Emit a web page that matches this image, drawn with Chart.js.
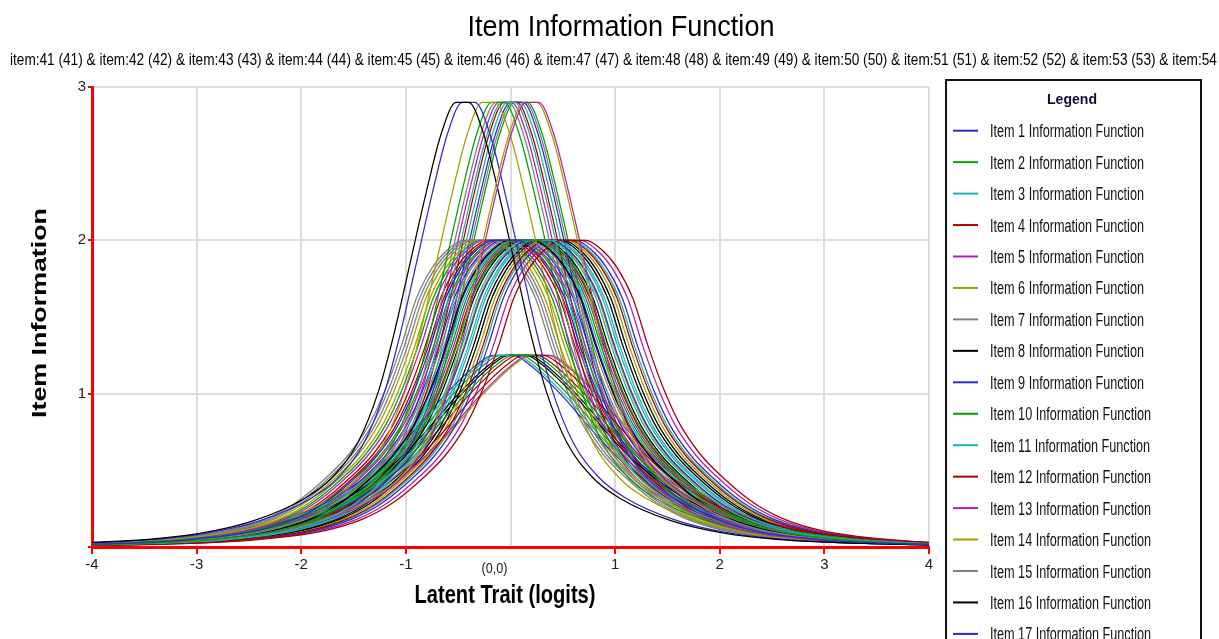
<!DOCTYPE html>
<html>
<head>
<meta charset="utf-8">
<script src="https://cdn.jsdelivr.net/npm/chart.js@4/dist/chart.umd.min.js"></script>
<style>
  html, body { margin: 0; padding: 0; background: #fff; overflow: hidden; }
  #wrap { width: 1219px; height: 639px; }
</style>
</head>
<body>
<div id="wrap"><canvas id="chart" width="1219" height="639"></canvas></div>
<script>
/* Item information functions: 60 items in three peak groups (2.9, 2.0, 1.25).
   Each group shares one shape as (distance from peak, information);
   each item has its own peak location. */

const TITLE = 'Item Information Function';
const SUBTITLE_ITEMS = [41, 42, 43, 44, 45, 46, 47, 48, 49, 50, 51, 52, 53, 54, 55, 56, 57, 58, 59, 60];
const X_TITLE = 'Latent Trait (logits)';
const Y_TITLE = 'Item Information';
const X_TICKS = [-4, -3, -2, -1, 0, 1, 2, 3, 4];
const Y_TICKS = [0, 1, 2, 3];

// shape of each group: distance from the item's peak (logits) -> information
const HIGH_OFFSETS = [0, 0.06, 0.2, 0.35, 0.5, 0.65, 0.8, 1.0, 1.25, 1.5, 2.0, 2.5, 3.0, 4.0, 5.0, 6.0];
const HIGH_VALUES  = [2.9, 2.9, 2.7, 2.3, 1.85, 1.4, 1.02, 0.68, 0.45, 0.32, 0.17, 0.09, 0.05, 0.02, 0.008, 0.003];
const MID_OFFSETS  = [0, 0.12, 0.27, 0.42, 0.57, 0.72, 0.87, 1.02, 1.22, 1.42, 1.72, 2.02, 2.42, 2.92, 3.42, 4.6, 6.0];
const MID_VALUES   = [2.0, 2.0, 1.94, 1.82, 1.62, 1.3, 1.02, 0.8, 0.6, 0.46, 0.29, 0.18, 0.1, 0.055, 0.03, 0.01, 0.003];
const LOW_OFFSETS  = [0, 0.1, 0.25, 0.4, 0.6, 0.8, 1.0, 1.2, 1.45, 1.75, 2.1, 2.6, 3.1, 3.6, 4.6, 6.0];
const LOW_VALUES   = [1.25, 1.25, 1.19, 1.1, 0.96, 0.8, 0.65, 0.52, 0.39, 0.27, 0.18, 0.1, 0.057, 0.033, 0.012, 0.004];

// per item (1..60): which group, and where its peak sits
const ITEM_GROUP = [
  'mid', 'mid', 'mid', 'mid', 'high', 'high', 'mid', 'high', 'high', 'low',
  'mid', 'mid', 'mid', 'high', 'mid', 'mid', 'mid', 'high', 'high', 'low',
  'mid', 'mid', 'high', 'mid', 'high', 'mid', 'low', 'mid', 'low', 'mid',
  'mid', 'low', 'mid', 'mid', 'high', 'high', 'mid', 'low', 'mid', 'mid',
  'low', 'mid', 'mid', 'low', 'mid', 'mid', 'high', 'mid', 'mid', 'low',
  'mid', 'mid', 'high', 'mid', 'mid', 'low', 'mid', 'high', 'mid', 'mid',
];
const ITEM_PEAK_AT = [
  -0.05, 0.15, 0.25, 0.60, 0.21, 0.19, 0.05, -0.46, -0.40, 0.12,
  0.31, 0.45, -0.14, -0.21, -0.27, 0.10, 0.50, -0.12, -0.02, 0.22,
  0.00, -0.20, -0.08, 0.36, 0.06, 0.20, -0.04, -0.10, 0.27, 0.42,
  -0.30, 0.05, 0.28, -0.02, 0.03, 0.00, 0.17, 0.29, 0.08, 0.22,
  -0.07, -0.17, 0.33, 0.16, 0.55, -0.24, 0.08, 0.39, 0.03, 0.00,
  0.13, -0.07, -0.05, 0.27, -0.33, 0.08, 0.11, 0.10, 0.47, 0.19,
];

const PALETTE = ['#2b2bc4', '#00a000', '#20b0b0', '#a80000', '#b020b0', '#a0a000', '#808080', '#000000'];

const SHAPES = {
  high: { offsets: HIGH_OFFSETS, values: HIGH_VALUES },
  mid:  { offsets: MID_OFFSETS,  values: MID_VALUES },
  low:  { offsets: LOW_OFFSETS,  values: LOW_VALUES },
};

// place a group's shape at the item's peak, both sides
function curvePoints(group, peakAt) {
  const { offsets, values } = SHAPES[group];
  const pts = [];
  for (let i = offsets.length - 1; i > 0; i--) pts.push({ x: peakAt - offsets[i], y: values[i] });
  for (let i = 0; i < offsets.length; i++) pts.push({ x: peakAt + offsets[i], y: values[i] });
  return pts;
}

const datasets = ITEM_GROUP.map((g, i) => ({
  label: `Item ${i + 1} Information Function`,
  data: curvePoints(g, ITEM_PEAK_AT[i]),
  borderColor: PALETTE[i % PALETTE.length],
  borderWidth: 1.25,
  pointRadius: 0,
  fill: false,
  cubicInterpolationMode: 'monotone',
}));

const FONT = "'Liberation Sans', Arial, sans-serif";
const NARROW = "'Liberation Sans Narrow', 'Liberation Sans', Arial, sans-serif";

// text squeezed/stretched horizontally to the width it has in the picture
function fitText(ctx, text, x, y, font, width, align, color) {
  ctx.save();
  ctx.font = font;
  const s = width / ctx.measureText(text).width;
  ctx.translate(x, y);
  ctx.scale(s, 1);
  ctx.textAlign = align;
  ctx.textBaseline = 'alphabetic';
  ctx.fillStyle = color;
  ctx.fillText(text, 0, 0);
  ctx.restore();
}

const decor = {
  id: 'decor',
  beforeDraw(chart) {
    const ctx = chart.ctx;
    ctx.save();
    ctx.fillStyle = '#fff';
    ctx.fillRect(0, 0, chart.width, chart.height);
    ctx.restore();
  },
  afterDraw(chart) {
    const ctx = chart.ctx;
    const xs = chart.scales.x;

    fitText(ctx, TITLE, 621, 36, `29px ${FONT}`, 307, 'center', '#000');

    // subtitle runs past the right edge, as in the original
    const sub = SUBTITLE_ITEMS.map(n => `item:${n} (${n})`).join(' & ');
    ctx.save();
    ctx.font = `16px ${FONT}`;
    const s = 89.4 / ctx.measureText('item:41 (41) & ').width;
    ctx.translate(10, 65);
    ctx.scale(s, 1);
    ctx.fillStyle = '#000';
    ctx.textAlign = 'left';
    ctx.fillText(sub, 0, 0);
    ctx.restore();

    fitText(ctx, X_TITLE, 505, 603, `bold 25px ${FONT}`, 181, 'center', '#000');

    ctx.save();
    ctx.translate(46, 313);
    ctx.rotate(-Math.PI / 2);
    fitText(ctx, Y_TITLE, 0, 0, `bold 21px ${FONT}`, 210, 'center', '#000');
    ctx.restore();

    // origin label sits just left of x = 0
    fitText(ctx, '(0,0)', xs.getPixelForValue(0) - 3, 573, `15px ${NARROW}`, 26, 'right', '#222');

    // legend box
    ctx.save();
    ctx.strokeStyle = '#111';
    ctx.lineWidth = 2;
    ctx.strokeRect(946, 80, 255, 640);
    ctx.restore();
    fitText(ctx, 'Legend', 1072, 104, `bold 15px ${FONT}`, 50, 'center', '#10103c');

    ctx.save();
    ctx.font = `18px ${FONT}`;
    const ls = 154 / ctx.measureText('Item 1 Information Function').width;
    ctx.restore();
    datasets.forEach((d, i) => {
      const y = 130.7 + i * 31.45;
      if (y > 660) return;
      ctx.save();
      ctx.strokeStyle = d.borderColor;
      ctx.lineWidth = 2;
      ctx.beginPath();
      ctx.moveTo(953, y);
      ctx.lineTo(978, y);
      ctx.stroke();
      ctx.font = `18px ${FONT}`;
      ctx.translate(990, y + 6.5);
      ctx.scale(ls, 1);
      ctx.fillStyle = '#111';
      ctx.textAlign = 'left';
      ctx.fillText(d.label, 0, 0);
      ctx.restore();
    });
  },
};

new Chart(document.getElementById('chart'), {
  type: 'line',
  data: { datasets },
  plugins: [decor],
  options: {
    responsive: false,
    animation: false,
    devicePixelRatio: 1,
    layout: { padding: { left: 0, top: 87, right: 290, bottom: 0 } },
    plugins: { legend: { display: false }, tooltip: { enabled: false }, title: { display: false } },
    scales: {
      x: {
        type: 'linear',
        min: -4, max: 4,
        afterBuildTicks: s => { s.ticks = X_TICKS.map(v => ({ value: v })); },
        afterFit: s => { s.height = 92; },
        border: { color: '#ff0000', width: 3 },
        grid: {
          color: c => (c.tick && c.tick.value === -4 ? 'rgba(0,0,0,0)' : '#dcdcdc'),
          lineWidth: 2,
          tickColor: c => (c.tick && c.tick.value === 0 ? 'rgba(0,0,0,0)' : '#ff0000'),
          tickWidth: 2,
          tickLength: 7,
        },
        ticks: {
          callback: v => (v === 0 ? '' : String(v)),
          color: '#222',
          font: { family: NARROW, size: 15 },
          padding: 2,
          maxRotation: 0,
        },
      },
      y: {
        min: 0, max: 3,
        afterBuildTicks: s => { s.ticks = Y_TICKS.map(v => ({ value: v })); },
        afterFit: s => { s.width = 92; },
        border: { color: '#ff0000', width: 3 },
        grid: {
          color: c => (c.tick && c.tick.value === 0 ? 'rgba(0,0,0,0)' : '#dcdcdc'),
          lineWidth: 2,
          tickColor: '#ff0000',
          tickWidth: 2,
          tickLength: 4,
        },
        ticks: {
          callback: v => (v === 0 ? '' : String(v)),
          color: '#222',
          font: { family: NARROW, size: 15 },
          padding: 2,
        },
      },
    },
  },
});
</script>
</body>
</html>
